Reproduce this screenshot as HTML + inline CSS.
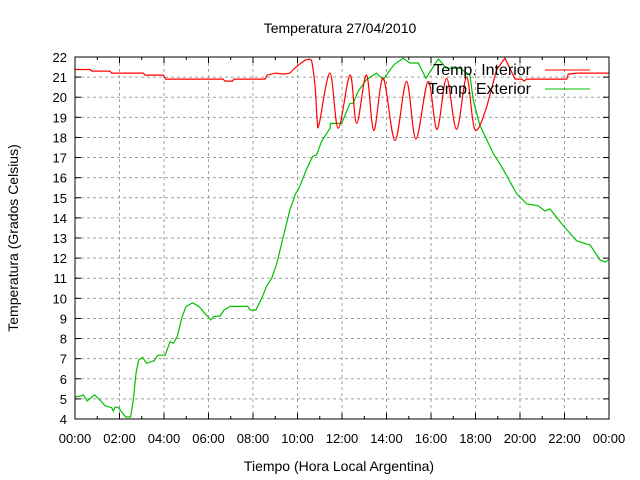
<!DOCTYPE html>
<html><head><meta charset="utf-8"><style>
html,body{margin:0;padding:0;background:#fff;}
svg{display:block;font-family:"Liberation Sans",sans-serif;}
</style></head><body>
<svg id="chart" width="640" height="480" viewBox="0 0 640 480" xmlns="http://www.w3.org/2000/svg">
<rect width="640" height="480" fill="#fff"/>
<text x="340" y="33" font-size="14" text-anchor="middle">Temperatura 27/04/2010</text>
<text x="339" y="471" font-size="14" text-anchor="middle">Tiempo (Hora Local Argentina)</text>
<text x="0" y="0" font-size="14" text-anchor="middle" transform="translate(18,238) rotate(-90)">Temperatura (Grados Celsius)</text>
<g id="grid"></g><g id="ticks"></g><g id="series"></g>
<rect x="75" y="57" width="534" height="362" fill="none" stroke="#000" stroke-width="1"/>
<g>
<text x="531" y="75" font-size="16" text-anchor="end">Temp. Interior</text>
<line x1="545" y1="70" x2="590" y2="70" stroke="#ff0000" stroke-width="1"/>
<text x="531" y="94" font-size="16" text-anchor="end">Temp. Exterior</text>
<line x1="545" y1="89" x2="590" y2="89" stroke="#00c000" stroke-width="1"/>
</g>
</svg>
<script>
const yTicks = [4,5,6,7,8,9,10,11,12,13,14,15,16,17,18,19,20,21,22];
const xTickHours = [0,2,4,6,8,10,12,14,16,18,20,22,24];
const xTickLabels = ["00:00","02:00","04:00","06:00","08:00","10:00","12:00","14:00","16:00","18:00","20:00","22:00","00:00"];
const exteriorHours = [0,0.26,0.37,0.55,0.88,1.12,1.35,1.65,1.72,1.81,1.95,2.28,2.5,2.62,2.74,2.86,3.04,3.22,3.56,3.72,4.06,4.27,4.42,4.6,4.79,4.99,5.29,5.59,5.77,6.1,6.25,6.52,6.7,6.97,7.76,7.87,8.13,8.39,8.61,8.84,9.06,9.36,9.66,9.89,10.1,10.4,10.68,10.86,11.08,11.46,11.48,11.98,12.36,12.5,12.73,13.1,13.55,13.85,14.16,14.38,14.75,15.05,15.43,15.77,16.33,16.7,17.3,17.75,17.9,18.2,18.8,19.25,19.85,20.3,20.82,21.12,21.35,21.95,22.55,23.15,23.6,23.82,23.97];
const exteriorTemps = [5.1,5.14,5.2,4.9,5.2,4.95,4.66,4.56,4.4,4.6,4.56,4.1,4.1,4.95,6.27,6.93,7.07,6.77,6.9,7.17,7.17,7.85,7.77,8.1,9.0,9.6,9.78,9.58,9.33,8.93,9.1,9.12,9.42,9.6,9.6,9.42,9.42,10,10.6,11,11.7,13.07,14.4,15.14,15.56,16.4,17.05,17.13,17.8,18.46,18.7,18.7,19.7,19.7,20.3,20.87,21.2,20.87,21.36,21.66,21.94,21.7,21.7,20.94,21.9,21.44,21.44,21.1,19.85,18.6,17.2,16.4,15.2,14.7,14.6,14.35,14.44,13.6,12.86,12.65,11.9,11.8,11.9];
const interiorHours = [0,0.67,0.75,1.57,1.65,3.07,3.15,3.97,4.07,6.66,6.74,7.08,7.14,8.54,8.64,9.03,9.36,9.66,9.81,10.04,10.34,10.53,10.63,10.79,10.89,10.98,11.46,11.83,12.36,12.66,13.1,13.43,13.85,14.38,14.9,15.32,15.87,16.27,16.7,17.15,17.6,17.97,18.5,18.95,19.32,19.78,20.07,20.18,20.3,22.1,22.17,22.55,23.15,24];
const interiorTemps = [21.38,21.38,21.3,21.3,21.2,21.2,21.1,21.1,20.9,20.9,20.8,20.8,20.9,20.9,21.1,21.2,21.15,21.2,21.38,21.6,21.84,21.9,21.84,20.53,18.8,18.7,21.2,18.46,21.1,18.7,21.1,18.34,20.94,17.85,20.78,17.93,20.78,18.4,20.94,18.4,21.0,18.4,19.5,21.36,21.94,20.9,20.9,20.8,20.9,20.9,21.15,21.2,21.2,21.2];

const X0=75,X1=609,Y0=419,Y1=57;
const xs=h=>X0+(h/24)*(X1-X0);
const ys=v=>Y0-(v-4)/(22-4)*(Y0-Y1);
const NS="http://www.w3.org/2000/svg";
const grid=document.getElementById('grid'),ticks=document.getElementById('ticks'),series=document.getElementById('series');
function mk(tag,attrs,parent){const e=document.createElementNS(NS,tag);for(const k in attrs)e.setAttribute(k,attrs[k]);parent.appendChild(e);return e;}
yTicks.forEach(v=>{
  const y=ys(v);
  if(v>4&&v<22){const g=mk('line',{x1:X0,x2:X1,y1:y,y2:y,stroke:'#a0a0a0','stroke-dasharray':'3,3','stroke-width':1},grid);
  
  }
  mk('line',{x1:X0,x2:X0+6,y1:y,y2:y,stroke:'#000'},ticks);
  mk('line',{x1:X1-6,x2:X1,y1:y,y2:y,stroke:'#000'},ticks);
  const t=mk('text',{x:X0-8,y:y+5,'font-size':13,'text-anchor':'end'},ticks);
  t.textContent=v;
  
  
});
xTickHours.forEach((h,i)=>{
  const x=xs(h);
  if(h>0&&h<24){const g=mk('line',{x1:x,x2:x,y1:Y1,y2:Y0,stroke:'#a0a0a0','stroke-dasharray':'3,3','stroke-width':1},grid);
  
  }
  mk('line',{x1:x,x2:x,y1:Y0,y2:Y0-6,stroke:'#000'},ticks);
  mk('line',{x1:x,x2:x,y1:Y1,y2:Y1+6,stroke:'#000'},ticks);
  if(h<24){const m=xs(h+1);mk('line',{x1:m,x2:m,y1:Y0,y2:Y0-3,stroke:'#000'},ticks);mk('line',{x1:m,x2:m,y1:Y1,y2:Y1+3,stroke:'#000'},ticks);}
  const t=mk('text',{x:x,y:Y0+24,'font-size':13,'text-anchor':'middle'},ticks);
  t.textContent=xTickLabels[i];
  
  
});
function line(hs,vs,color,name,smoothFrom,smoothTo){
  const P=hs.map((h,i)=>[xs(h),ys(vs[i])]);
  let d='M'+P[0][0].toFixed(1)+' '+P[0][1].toFixed(1);
  for(let i=1;i<P.length;i++){
    const h0=hs[i-1],h1=hs[i];
    if(smoothFrom!==undefined&&h0>=smoothFrom&&h1<=smoothTo){
      const p0=P[Math.max(0,i-2)],p1=P[i-1],p2=P[i],p3=P[Math.min(P.length-1,i+1)];
      const c1x=p1[0]+(p2[0]-p0[0])/6,c1y=p1[1]+(p2[1]-p0[1])/6;
      const c2x=p2[0]-(p3[0]-p1[0])/6,c2y=p2[1]-(p3[1]-p1[1])/6;
      d+=' C'+c1x.toFixed(1)+' '+c1y.toFixed(1)+' '+c2x.toFixed(1)+' '+c2y.toFixed(1)+' '+p2[0].toFixed(1)+' '+p2[1].toFixed(1);
    } else d+=' L'+P[i][0].toFixed(1)+' '+P[i][1].toFixed(1);
  }
  const p=mk('path',{d:d,fill:'none',stroke:color,'stroke-width':1.2},series);
  
  
}
line(exteriorHours,exteriorTemps,'#00c000','series-temp-exterior');
line(interiorHours,interiorTemps,'#ff0000','series-temp-interior',10.6,18.6);
</script>
</body></html>
